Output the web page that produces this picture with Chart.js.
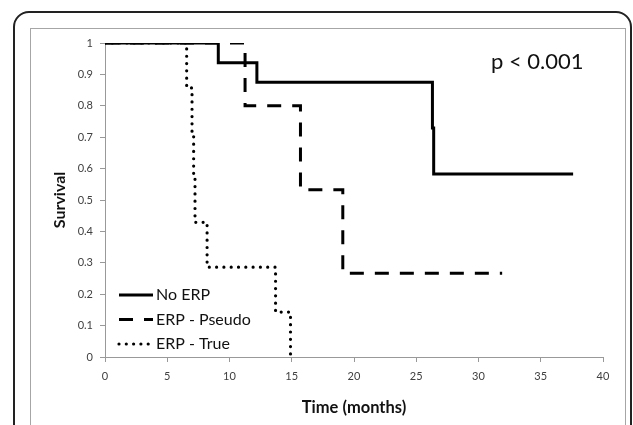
<!DOCTYPE html>
<html>
<head>
<meta charset="utf-8">
<script src="https://cdn.jsdelivr.net/npm/chart.js@4.4.0/dist/chart.umd.min.js"></script>
<style>
body { margin: 0; background: #fff; }
#wrap { position: relative; width: 633px; height: 425px; overflow: hidden; }
#outer { position: absolute; left: 13px; top: 11px; width: 615px; height: 500px; border: 2px solid #222; border-radius: 16px; }
#inner { position: absolute; left: 30px; top: 28px; width: 594px; height: 480px; border: 1px solid #a6a6a6; }
canvas { position: absolute; left: 0; top: 0; }
</style>
</head>
<body>
<div id="wrap">
  <div id="outer"></div>
  <div id="inner"></div>
  <canvas id="kmChart" width="633" height="425"></canvas>
</div>
<script>
// Kaplan-Meier curves
const noErpTime = [0, 9.1, 12.2, 26.3, 26.4, 37.6];
const noErpSurv = [1, 0.9375, 0.875, 0.729, 0.583, 0.583];

const pseudoTime = [0, 11.25, 15.7, 19.1, 31.9];
const pseudoSurv = [1, 0.8, 0.533, 0.267, 0.267];

const trueTime = [0, 6.56, 6.99, 7.12, 7.23, 8.2, 13.7, 14.9];
const trueSurv = [1, 0.857, 0.714, 0.571, 0.429, 0.286, 0.143, 0];

const seriesLabels = ['No ERP', 'ERP - Pseudo', 'ERP - True'];
const xTicks = [0, 5, 10, 15, 20, 25, 30, 35, 40];
const yTicks = [0, 0.1, 0.2, 0.3, 0.4, 0.5, 0.6, 0.7, 0.8, 0.9, 1];
const pText = 'p < 0.001';

function toPoints(times, surv) {
    return times.map((t, i) => ({ x: t, y: surv[i] }));
}

const insideLegend = {
    id: 'insideLegend',
    afterDatasetsDraw(chart) {
        const ctx = chart.ctx;
        const area = chart.chartArea;
        ctx.save();
        chart.data.datasets.forEach((ds, i) => {
            const y = area.bottom - 62 + i * 24.5;
            const x0 = area.left + 14;
            const x1 = area.left + 48;
            ctx.beginPath();
            ctx.lineWidth = ds.borderWidth;
            ctx.strokeStyle = ds.borderColor;
            ctx.lineCap = ds.borderCapStyle || 'butt';
            ctx.setLineDash(ds.borderDash || []);
            ctx.moveTo(x0, y);
            ctx.lineTo(x1, y);
            ctx.stroke();
            ctx.setLineDash([]);
            ctx.fillStyle = '#111';
            ctx.font = '16px Lato';
            ctx.textBaseline = 'middle';
            ctx.textAlign = 'left';
            ctx.fillText(ds.label, x1 + 3, y);
        });
        ctx.font = '22px Lato';
        ctx.fillStyle = '#111';
        ctx.textBaseline = 'middle';
        ctx.fillText(pText, area.left + 386, area.top + 19);
        ctx.restore();
    }
};

const config = {
    type: 'line',
    data: {
        datasets: [{
            label: seriesLabels[0],
            data: toPoints(noErpTime, noErpSurv),
            borderColor: '#000',
            borderWidth: 3,
            stepped: 'before'
        }, {
            label: seriesLabels[1],
            data: toPoints(pseudoTime, pseudoSurv),
            borderColor: '#000',
            borderWidth: 3,
            borderDash: [14, 11],
            stepped: 'before'
        }, {
            label: seriesLabels[2],
            data: toPoints(trueTime, trueSurv),
            borderColor: '#000',
            borderWidth: 3.2,
            borderDash: [0, 7.3],
            borderCapStyle: 'round',
            stepped: 'before'
        }]
    },
    options: {
        responsive: false,
        animation: false,
        elements: { point: { radius: 0 } },
        layout: { padding: { left: 45, top: 43, right: 30, bottom: 0 } },
        scales: {
            x: {
                type: 'linear',
                min: 0,
                max: 40,
                afterFit: s => { s.height = 68; },
                afterBuildTicks: s => { s.ticks = xTicks.map(v => ({ value: v })); },
                grid: { drawOnChartArea: false, color: '#999', tickLength: 5 },
                border: { color: '#999' },
                ticks: { color: '#404040', font: { family: 'Lato', size: 11 }, padding: 8, maxRotation: 0 },
                title: {
                    display: true,
                    text: 'Time (months)',
                    color: '#111',
                    font: { family: 'Lato', size: 16.5, weight: 'bold' },
                    padding: { top: 6, bottom: 7 }
                }
            },
            y: {
                min: 0,
                max: 1,
                afterFit: s => { s.width = 60; },
                afterBuildTicks: s => { s.ticks = yTicks.map(v => ({ value: v })); },
                grid: { drawOnChartArea: false, color: '#999', tickLength: 5 },
                border: { color: '#999' },
                ticks: {
                    color: '#404040',
                    font: { family: 'Lato', size: 11 },
                    padding: 7,
                    callback: v => String(+v.toFixed(1))
                },
                title: {
                    display: true,
                    text: 'Survival',
                    color: '#111',
                    font: { family: 'Lato', size: 16, weight: 'bold' },
                    padding: { top: 5, bottom: 4 }
                }
            }
        },
        plugins: {
            legend: { display: false },
            tooltip: { enabled: false }
        }
    },
    plugins: [insideLegend]
};

const ctx = document.getElementById('kmChart').getContext('2d');
const kmChart = new Chart(ctx, config);
</script>
</body>
</html>
